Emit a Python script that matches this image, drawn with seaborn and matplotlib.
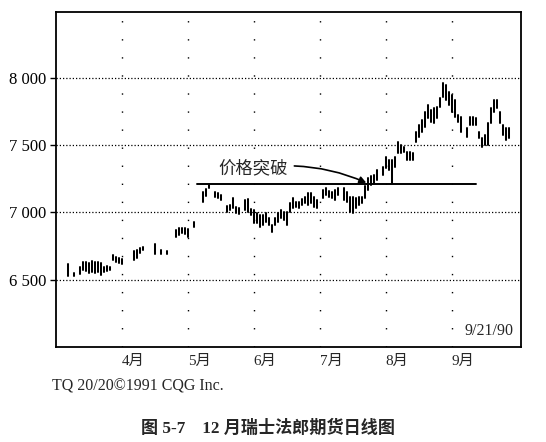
import pandas as pd
import matplotlib
matplotlib.use("Agg")
import matplotlib.pyplot as plt
import seaborn as sns

# Tageskurse (Index des Handelstages, Hoch, Tief)
days = [4, 6, 8, 9, 10, 11, 12, 13, 14, 15, 16, 17, 18, 19, 20, 21, 22,
        26, 27, 28, 29, 33, 35, 37, 40, 41, 42, 43, 44, 46,
        49, 50, 51, 53, 54, 55, 57, 58, 59, 60, 61, 63, 64, 65, 66, 67, 68,
        69, 70, 71, 72, 73, 74, 75, 76, 77, 78, 79, 80, 81, 82, 83, 84, 85,
        86, 87, 89, 90, 91, 92, 93, 94, 96, 97, 98, 99, 100, 101, 102, 103,
        104, 105, 106, 107, 109, 110, 111, 112, 113, 114, 115, 116, 117, 118,
        119, 120, 121, 122, 123, 124, 125, 126, 127, 128, 129, 130, 131, 132,
        133, 134, 135, 137, 138, 139, 140, 141, 142, 143, 144, 145, 146, 147,
        148, 149, 150, 151]
highs = [6616, 6549, 6594, 6631, 6631, 6623, 6638, 6631, 6631, 6623, 6594, 6601, 6594, 6683, 6668, 6660, 6653,
         6712, 6720, 6735, 6742, 6764, 6720, 6712, 6868, 6883, 6883, 6883, 6876, 6928,
         7151, 7173, 7203, 7151, 7143, 7129, 7047, 7054, 7106, 7039, 7032, 7091, 7099, 7025, 7017, 6995, 6980,
         6980, 6995, 6958, 6906, 6958, 6995, 7017, 7002, 7002, 7069, 7106, 7077, 7077, 7099, 7114, 7143, 7143,
         7114, 7091, 7166, 7181, 7158, 7151, 7166, 7181, 7181, 7151, 7114, 7114, 7106, 7114, 7114, 7195,
         7255, 7270, 7277, 7314, 7337, 7411, 7389, 7389, 7411, 7522, 7500, 7485, 7448, 7448,
         7441, 7597, 7649, 7686, 7745, 7797, 7760, 7775, 7782, 7849, 7961, 7946, 7894, 7872,
         7834, 7723, 7708, 7626, 7708, 7708, 7701, 7597, 7552, 7574, 7664, 7775, 7834, 7834,
         7745, 7649, 7626, 7626]
lows = [6527, 6527, 6542, 6571, 6564, 6549, 6556, 6549, 6556, 6534, 6556, 6564, 6571, 6646, 6631, 6623, 6616,
        6646, 6660, 6698, 6720, 6690, 6690, 6690, 6816, 6831, 6846, 6839, 6816, 6891,
        7077, 7121, 7181, 7114, 7106, 7091, 7002, 7017, 7032, 6995, 6987, 7017, 7002, 6980, 6920, 6920, 6891,
        6906, 6928, 6906, 6854, 6906, 6928, 6958, 6943, 6906, 7002, 7032, 7039, 7032, 7054, 7069, 7054, 7069,
        7039, 7032, 7106, 7129, 7114, 7106, 7091, 7129, 7091, 7077, 7002, 6995, 7032, 7054, 7069, 7106,
        7166, 7203, 7218, 7240, 7277, 7329, 7314, 7218, 7337, 7441, 7441, 7448, 7389, 7389,
        7389, 7522, 7559, 7597, 7634, 7701, 7671, 7664, 7701, 7782, 7857, 7834, 7797, 7745,
        7708, 7671, 7597, 7559, 7649, 7649, 7649, 7552, 7485, 7500, 7500, 7664, 7745, 7775,
        7664, 7574, 7537, 7552]

month_pos = [22, 44, 66, 88, 110, 132]
month_labels = ["4月", "5月", "6月", "7月", "8月", "9月"]
price_ticks = [6500, 7000, 7500, 8000]
price_labels = ["6 500", "7 000", "7 500", "8 000"]
breakout_level = 7210

# Langformat: zwei Punkte pro Tag -> senkrechte Linie
df = pd.DataFrame({
    "day": days + days,
    "price": highs + lows,
})

sns.set_theme(style="white")
plt.rcParams['font.family'] = ['Liberation Serif', 'Noto Sans CJK SC']

fig = plt.figure(figsize=(5.46, 4.42), dpi=100)
ax = fig.add_axes([0.102, 0.215, 0.852, 0.758])

sns.lineplot(data=df, x="day", y="price", units="day", estimator=None,
             color="black", linewidth=1.45, ax=ax)

# Gitter
for p in price_ticks:
    ax.axhline(p, color="black", linewidth=0.9, linestyle=(0, (1, 1.6)), zorder=0)
for m in month_pos:
    ax.axvline(m, color="black", linewidth=1.0, linestyle=(0, (1, 12)), zorder=0)

# Ausbruchslinie
ax.plot([47, 140], [breakout_level, breakout_level], color="black", linewidth=1.4)
ax.annotate("价格突破", xy=(103.5, 7220), xytext=(77.5, 7325),
            fontsize=12.5, va="center", ha="right",
            family=['Noto Sans CJK SC'],
            arrowprops=dict(arrowstyle="-|>", color="black", lw=1.2,
                            connectionstyle="arc3,rad=-0.15",
                            mutation_scale=10, shrinkA=2, shrinkB=0))

ax.set_xlim(0, 155)
ax.set_ylim(6000, 8490)
ax.set_xticks(month_pos)
ax.set_xticklabels(month_labels, ha="left", fontsize=11)
ax.set_yticks(price_ticks)
ax.set_yticklabels(price_labels, fontsize=12)
ax.tick_params(axis="x", length=0, pad=6)
ax.tick_params(axis="y", length=4, width=1, direction="out", left=True, pad=3, colors="black")
ax.set_xlabel("")
ax.set_ylabel("")
for s in ax.spines.values():
    s.set_visible(True)
    s.set_color("black")
    s.set_linewidth(1.3)

ax.text(0.985, 0.025, "9/21/90", transform=ax.transAxes, ha="right", va="bottom", fontsize=11.5)
fig.text(0.095, 0.125, "TQ 20/20©1991 CQG Inc.", ha="left", va="center", fontsize=11.5)
fig.text(0.49, 0.032, "图 5-7    12 月瑞士法郎期货日线图", ha="center", va="center",
         fontsize=12.3, fontweight="bold")

fig.savefig("out.png", dpi=100)
